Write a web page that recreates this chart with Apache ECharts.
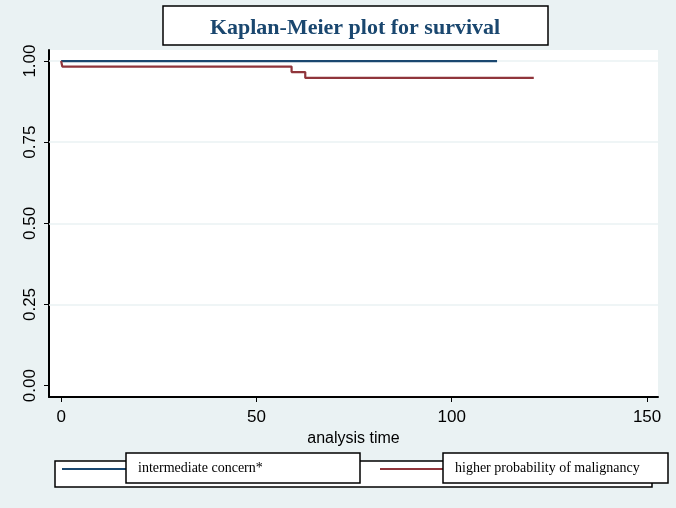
<!DOCTYPE html>
<html><head><meta charset="utf-8">
<script src="https://cdn.jsdelivr.net/npm/echarts@6/dist/echarts.min.js"></script>
<style>html,body{margin:0;padding:0;background:#eaf2f3}#c{width:676px;height:508px}</style>
</head><body><div id="c"></div>
<script>
const titleText = 'Kaplan-Meier plot for survival';
const xTitle = 'analysis time';
const seriesNames = ['intermediate concern*', 'higher probability of malignancy'];
const xTicks = [0, 50, 100, 150];
const yTicks = [0, 0.25, 0.5, 0.75, 1];
const gridValues = [0.25, 0.5, 0.75, 1];
// KM step points [time, survival]
const intermediateKM = [[0, 1], [111.6, 1]];
const higherKM = [[0, 1], [0.3, 0.983], [59, 0.966], [62.5, 0.948], [121, 0.948]];

const chart = echarts.init(document.getElementById('c'));
const navy = '#1a476f', maroon = '#90353b';
chart.setOption({
  backgroundColor: '#eaf2f3',
  animation: false,
  grid: {left: 49, right: 18, top: 50, bottom: 111, show: true, backgroundColor: '#ffffff', borderWidth: 0},
  xAxis: {
    type: 'value', min: -3.1, max: 152.8,
    name: xTitle, nameLocation: 'middle', nameGap: 34,
    nameTextStyle: {fontFamily: 'Liberation Sans', fontSize: 16, color: '#000'},
    axisLine: {show: true, onZero: false, lineStyle: {color: '#000', width: 2}},
    axisTick: {show: true, customValues: xTicks, length: 5, lineStyle: {color: '#000', width: 1}},
    axisLabel: {customValues: xTicks, fontFamily: 'Liberation Sans', fontSize: 17, color: '#000', margin: 12},
    splitLine: {show: false}
  },
  yAxis: {
    type: 'value', min: -0.035, max: 1.034,
    axisLine: {show: true, onZero: false, lineStyle: {color: '#000', width: 2}},
    axisTick: {show: true, customValues: yTicks, length: 5, lineStyle: {color: '#000', width: 1}},
    axisLabel: {customValues: yTicks, rotate: 90, fontFamily: 'Liberation Sans', fontSize: 17, color: '#000', margin: 10,
      formatter: v => v.toFixed(2)},
    splitLine: {show: false}
  },
  series: [
    {type: 'line', name: 'grid', data: [], silent: true, z: 1,
     markLine: {symbol: 'none', silent: true, label: {show: false}, z: 1,
       lineStyle: {color: '#eaf2f3', width: 1.5, type: 'solid'},
       data: gridValues.map(v => ({yAxis: v}))}},
    {type: 'line', name: seriesNames[0], data: intermediateKM, step: 'end', showSymbol: false, zlevel: 1,
     lineStyle: {color: navy, width: 2.2}, itemStyle: {color: navy}, z: 5},
    {type: 'line', name: seriesNames[1], data: higherKM, step: 'end', showSymbol: false, zlevel: 1,
     lineStyle: {color: maroon, width: 2.2}, itemStyle: {color: maroon}, z: 5}
  ],
  graphic: [
    {type: 'rect', shape: {x: 163, y: 6, width: 385, height: 39}, style: {fill: '#fff', stroke: '#000', lineWidth: 1.5}},
    {type: 'text', x: 355, y: 28, style: {text: titleText, fill: navy, font: 'bold 22px "Liberation Serif"', align: 'center', verticalAlign: 'middle'}},
    {type: 'rect', shape: {x: 55, y: 461, width: 597, height: 26}, style: {fill: '#fff', stroke: '#000', lineWidth: 1.5}},
    {type: 'line', shape: {x1: 62, y1: 469, x2: 127, y2: 469}, style: {stroke: navy, lineWidth: 2}},
    {type: 'line', shape: {x1: 380, y1: 469, x2: 443, y2: 469}, style: {stroke: maroon, lineWidth: 2}},
    {type: 'rect', shape: {x: 126, y: 453, width: 234, height: 30}, style: {fill: '#fff', stroke: '#000', lineWidth: 1.5}},
    {type: 'text', x: 138, y: 468, style: {text: seriesNames[0], fill: '#000', font: '14px "Liberation Serif"', verticalAlign: 'middle'}},
    {type: 'rect', shape: {x: 443, y: 453, width: 225, height: 30}, style: {fill: '#fff', stroke: '#000', lineWidth: 1.5}},
    {type: 'text', x: 455, y: 468, style: {text: seriesNames[1], fill: '#000', font: '14px "Liberation Serif"', verticalAlign: 'middle'}}
  ]
});
</script></body></html>
